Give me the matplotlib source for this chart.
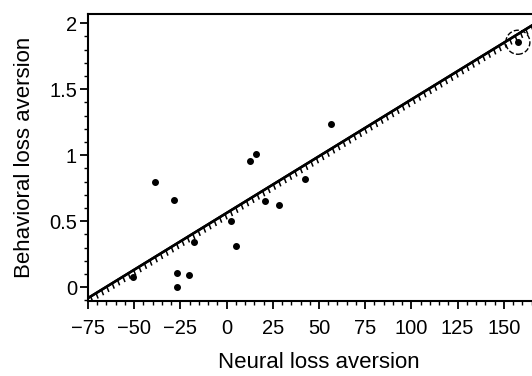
import matplotlib.pyplot as plt
import matplotlib.patheffects as pe
from matplotlib.ticker import MultipleLocator
import numpy as np

plt.rcParams['font.family'] = ['Liberation Sans', 'DejaVu Sans']

# Neural vs behavioral loss aversion
neural = [-50.7, -38.8, -28.5, -26.9, -26.9, -20.4, -17.7, 2.3, 5.0,
          12.6, 15.9, 20.7, 28.3, 42.4, 56.4, 157.6]
behavioral = [0.076, 0.795, 0.66, 0.106, 0.0, 0.09, 0.34, 0.5, 0.31,
              0.955, 1.008, 0.65, 0.62, 0.82, 1.24, 1.856]
# regression line drawn in the figure
fit_slope = 0.0086
fit_intercept = 0.562
fit_x = [-75, 175]
circled_x = [157.6]
circled_y = [1.856]

fig = plt.figure(figsize=(5.32, 3.76), dpi=100)
ax = fig.add_axes([88/532, 1-301/376, 462/532, 287/376])

xs = np.array(fit_x)
ax.plot(xs, fit_intercept + fit_slope*xs, color='k', linewidth=1.8,
        path_effects=[pe.withTickedStroke(angle=-100, spacing=4.5, length=0.8,
                                          linewidth=1.1),
                      pe.Normal()])
ax.plot(neural, behavioral, 'o', color='k', markersize=4, zorder=3)
ax.scatter(circled_x, circled_y, s=300, facecolors='none', edgecolors='k',
           linestyles='--', linewidths=1.0)

ax.set_xlim(-75, 175)
ax.set_ylim(-0.105, 2.07)
ax.xaxis.set_major_locator(MultipleLocator(25))
ax.xaxis.set_minor_locator(MultipleLocator(5))
ax.yaxis.set_major_locator(MultipleLocator(0.5))
ax.yaxis.set_minor_locator(MultipleLocator(0.1))
ax.set_xticks([-75, -50, -25, 0, 25, 50, 75, 100, 125, 150])
ax.set_xticklabels(['\u221275', '\u221250', '\u221225', '0', '25', '50',
                    '75', '100', '125', '150'])
ax.set_yticks([0, 0.5, 1, 1.5, 2])
ax.set_yticklabels(['0', '0.5', '1', '1.5', '2'])

for s in ax.spines.values():
    s.set_linewidth(1.5)
ax.tick_params(which='major', length=6, width=1.3, labelsize=14.5)
ax.tick_params(axis='x', which='major', pad=7)
ax.tick_params(axis='y', which='major', pad=2)
ax.tick_params(which='minor', length=3, width=1.0)

ax.set_xlabel('Neural loss aversion', fontsize=16, labelpad=10)
ax.set_ylabel('Behavioral loss aversion', fontsize=16, labelpad=10)

fig.savefig('out.png', dpi=100)
